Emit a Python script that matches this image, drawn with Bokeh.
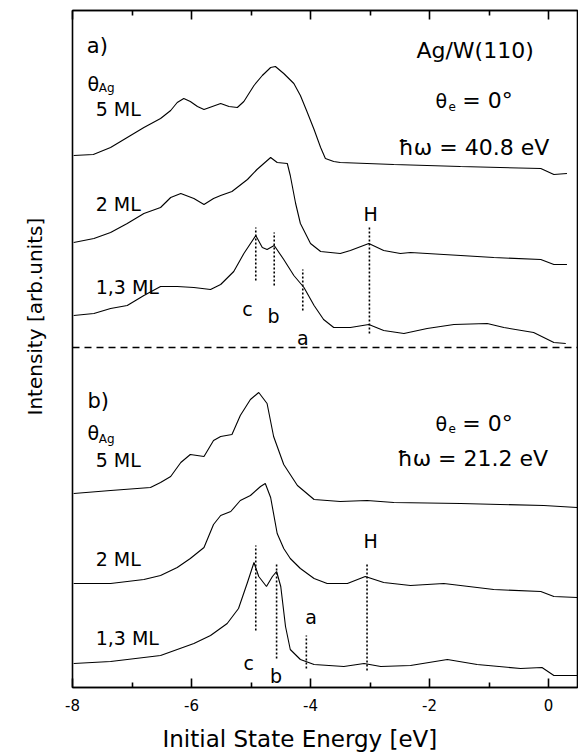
from bokeh.plotting import figure
from bokeh.models import Range1d, FixedTicker, LinearAxis, Span, Label, Title
from bokeh.embed import file_html
from bokeh.resources import INLINE

FONT = "DejaVu Sans"

# ---- photoemission spectra, Ag/W(110), normal emission ----
# energies in eV (initial state), intensities in arb. units (already stacked)

# hw = 40.8 eV
e40_5ml = [-7.98, -7.65, -7.36, -7.08, -6.80, -6.52, -6.35, -6.24, -6.13, -6.02, -5.90, -5.79,
           -5.65, -5.51, -5.37, -5.23, -5.12, -4.95, -4.81, -4.67, -4.59, -4.45, -4.28, -4.17,
           -4.06, -3.94, -3.83, -3.75, -3.61, -3.50, -2.60, -1.48, -0.13, 0.09, 0.31]
i40_5ml = [5.32, 5.33, 5.40, 5.50, 5.60, 5.69, 5.77, 5.85, 5.89, 5.86, 5.81, 5.78,
           5.81, 5.84, 5.81, 5.80, 5.86, 6.02, 6.12, 6.20, 6.21, 6.14, 6.04, 5.92,
           5.76, 5.58, 5.40, 5.29, 5.26, 5.25, 5.23, 5.21, 5.19, 5.13, 5.14]

e40_2ml = [-7.98, -7.64, -7.36, -7.08, -6.80, -6.52, -6.35, -6.18, -5.96, -5.79, -5.63, -5.51,
           -5.32, -5.06, -4.90, -4.67, -4.56, -4.39, -4.34, -4.25, -4.17, -4.00, -3.83, -3.50,
           -3.33, -3.02, -2.77, -2.49, -2.32, -1.76, -0.92, -0.13, 0.09, 0.31]
i40_2ml = [4.45, 4.49, 4.55, 4.64, 4.74, 4.80, 4.90, 4.94, 4.89, 4.83, 4.89, 4.92,
           4.96, 5.08, 5.18, 5.30, 5.25, 5.24, 5.12, 4.84, 4.64, 4.44, 4.36, 4.34,
           4.37, 4.44, 4.37, 4.34, 4.35, 4.33, 4.30, 4.28, 4.23, 4.23]

e40_13ml = [-7.98, -7.64, -7.36, -7.08, -6.80, -6.52, -6.24, -5.96, -5.68, -5.51, -5.29, -5.12,
            -4.92, -4.81, -4.73, -4.61, -4.45, -4.28, -4.11, -3.94, -3.78, -3.61, -3.33, -3.02,
            -2.77, -2.43, -2.04, -1.59, -1.03, -0.75, -0.25, 0.09, 0.29]
i40_13ml = [3.72, 3.74, 3.79, 3.82, 3.92, 4.01, 4.01, 4.00, 3.98, 4.03, 4.16, 4.34,
            4.52, 4.40, 4.38, 4.42, 4.28, 4.12, 4.00, 3.82, 3.68, 3.60, 3.60, 3.63,
            3.57, 3.54, 3.59, 3.63, 3.64, 3.60, 3.55, 3.45, 3.44]

# hw = 21.2 eV
e21_5ml = [-7.98, -7.36, -6.69, -6.52, -6.35, -6.18, -6.02, -5.79, -5.63, -5.51, -5.32, -5.18,
           -5.01, -4.87, -4.73, -4.62, -4.45, -4.22, -3.94, -3.50, -3.05, -2.60, -1.48, -0.08, 0.48]
i21_5ml = [1.94, 1.97, 2.00, 2.05, 2.11, 2.25, 2.33, 2.31, 2.47, 2.51, 2.53, 2.72,
           2.88, 2.95, 2.84, 2.51, 2.23, 2.02, 1.88, 1.86, 1.87, 1.85, 1.84, 1.82, 1.80]

e21_2ml = [-7.98, -7.36, -6.80, -6.52, -6.24, -6.02, -5.79, -5.63, -5.51, -5.34, -5.18, -5.01,
           -4.84, -4.76, -4.67, -4.56, -4.45, -4.34, -4.17, -3.94, -3.72, -3.38, -3.08, -2.77,
           -2.32, -1.76, -1.48, -0.92, -0.13, 0.09, 0.48]
i21_2ml = [1.04, 1.04, 1.08, 1.12, 1.20, 1.29, 1.40, 1.63, 1.72, 1.76, 1.87, 1.92,
           2.01, 2.04, 1.90, 1.54, 1.39, 1.29, 1.19, 1.09, 1.04, 1.04, 1.11, 1.05,
           1.02, 1.04, 1.02, 0.98, 0.96, 0.91, 0.90]

e21_13ml = [-7.98, -7.36, -6.52, -5.96, -5.68, -5.40, -5.21, -5.06, -4.95, -4.87, -4.74, -4.64,
            -4.57, -4.50, -4.42, -4.34, -4.17, -3.94, -3.44, -3.10, -2.82, -2.32, -1.70, -1.20,
            -0.47, -0.11, 0.09, 0.48]
i21_13ml = [0.24, 0.26, 0.32, 0.44, 0.52, 0.64, 0.79, 1.05, 1.25, 1.11, 1.01, 1.11,
            1.16, 1.01, 0.61, 0.38, 0.28, 0.23, 0.21, 0.24, 0.21, 0.22, 0.28, 0.23,
            0.19, 0.20, 0.12, 0.12]

# peak positions c, b, a, H (eV) with the vertical extent of their guide lines
peaks40_e = [-4.92, -4.61, -4.13, -3.01]
peaks40_lo = [4.07, 4.02, 3.77, 3.54]
peaks40_hi = [4.60, 4.55, 4.18, 4.60]
peaks21_e = [-4.92, -4.57, -4.07, -3.05]
peaks21_lo = [0.57, 0.29, 0.19, 0.17]
peaks21_hi = [1.42, 1.25, 0.52, 1.25]

panel_divider = 3.40

x_ticks = [-8, -6, -4, -2, 0]
x_minor = [-7, -5, -3, -1]
x_tick_labels = ["-8", "-6", "-4", "-2", "0"]

p = figure(width=578, height=756, output_backend="svg", toolbar_location=None,
           x_range=Range1d(-8, 0.487), y_range=Range1d(0, 6.77),
           min_border_left=72, min_border_right=1, min_border_top=10, min_border_bottom=69,
           background_fill_color="white", border_fill_color="white")
p.grid.visible = False
p.outline_line_color = "black"
p.outline_line_width = 1.6
p.outline_line_alpha = 1.0


def spacer(axis, ticks, gap):
    """Invisible axis: nothing is drawn, its outer tick length only reserves room."""
    axis.ticker = FixedTicker(ticks=ticks, minor_ticks=[])
    axis.axis_line_color = None
    axis.major_tick_line_color = None
    axis.minor_tick_line_color = None
    axis.major_tick_in = 0
    axis.major_tick_out = gap
    axis.minor_tick_in = 0
    axis.minor_tick_out = 0
    axis.major_label_standoff = 0
    axis.major_label_text_font_size = "1px"
    axis.major_label_text_color = None


spacer(p.yaxis[0], [1.0], 21)

ticker = FixedTicker(ticks=x_ticks, minor_ticks=x_minor)
xa = p.xaxis[0]
xa.ticker = ticker
xa.major_label_overrides = {t: s for t, s in zip(x_ticks, x_tick_labels)}
xa.major_tick_in = 9
xa.major_tick_out = 0
xa.minor_tick_in = 5
xa.minor_tick_out = 0
xa.axis_line_width = 1.6
xa.major_tick_line_width = 1.6
xa.minor_tick_line_width = 1.6
xa.major_label_text_font = FONT
xa.major_label_text_font_size = "15px"
xa.major_label_text_color = "black"
xa.major_label_standoff = 11

# ticks along the top edge, no numbers there
top = LinearAxis(ticker=ticker, major_tick_in=9, major_tick_out=0, minor_tick_in=5,
                 minor_tick_out=0, axis_line_width=1.6, major_tick_line_width=1.6,
                 minor_tick_line_width=1.6, major_label_text_color=None,
                 major_label_text_font_size="2px", major_label_standoff=0)
p.add_layout(top, "above")

below_gap = LinearAxis()
spacer(below_gap, [-4.0], 8)
p.add_layout(below_gap, "below")

# axis titles
p.add_layout(Title(text="Initial State Energy [eV]", align="left", offset=90,
                   vertical_align="bottom", standoff=4, text_font=FONT,
                   text_font_size="23px", text_font_style="normal", text_color="black"),
             "below")
p.add_layout(Title(text="Intensity [arb.units]", align="left", offset=272,
                   vertical_align="bottom", standoff=10, text_font=FONT,
                   text_font_size="20px", text_font_style="normal", text_color="black"),
             "left")

for e, i in [(e40_5ml, i40_5ml), (e40_2ml, i40_2ml), (e40_13ml, i40_13ml),
             (e21_5ml, i21_5ml), (e21_2ml, i21_2ml), (e21_13ml, i21_13ml)]:
    p.line(e, i, line_color="black", line_width=1.1)

for pe, lo, hi in [(peaks40_e, peaks40_lo, peaks40_hi), (peaks21_e, peaks21_lo, peaks21_hi)]:
    p.segment(x0=pe, y0=lo, x1=pe, y1=hi, line_color="black", line_width=1.6,
              line_dash="2 2")

p.add_layout(Span(location=panel_divider, dimension="width", line_color="black",
                  line_width=1.5, line_dash="7 5"))


def note(x, y, text, size, align="left"):
    p.add_layout(Label(x=x, y=y, text=text, text_font=FONT, text_font_size=f"{size}px",
                       text_color="black", text_align=align, text_baseline="alphabetic"))


# panel a)
note(-7.76, 6.42, "a)", 21)
note(-7.75, 6.04, "θ", 19)
note(-7.56, 6.00, "Ag", 12)
note(-7.61, 5.79, "5 ML", 19)
note(-2.22, 6.37, "Ag/W(110)", 22)
note(-1.90, 5.87, "θ", 19)
note(-1.68, 5.81, "e", 12)
note(-1.45, 5.87, "= 0°", 22)
note(-2.52, 5.40, "ħω = 40.8 eV", 22)
note(-7.61, 4.84, "2 ML", 19)
note(-2.99, 4.74, "H", 19, "center")
note(-7.61, 4.01, "1,3 ML", 19)
note(-5.06, 3.79, "c", 19, "center")
note(-4.62, 3.72, "b", 19, "center")
note(-4.13, 3.50, "a", 19, "center")

# panel b)
note(-7.75, 2.87, "b)", 21)
note(-7.75, 2.55, "θ", 19)
note(-7.56, 2.49, "Ag", 12)
note(-7.61, 2.28, "5 ML", 19)
note(-1.90, 2.64, "θ", 19)
note(-1.68, 2.59, "e", 12)
note(-1.45, 2.64, "= 0°", 22)
note(-2.54, 2.29, "ħω = 21.2 eV", 22)
note(-2.99, 1.47, "H", 19, "center")
note(-7.61, 1.29, "2 ML", 19)
note(-3.99, 0.71, "a", 19, "center")
note(-7.61, 0.50, "1,3 ML", 19)
note(-5.04, 0.25, "c", 19, "center")
note(-4.58, 0.12, "b", 19, "center")

open("out.html", "w").write(file_html(p, INLINE))
